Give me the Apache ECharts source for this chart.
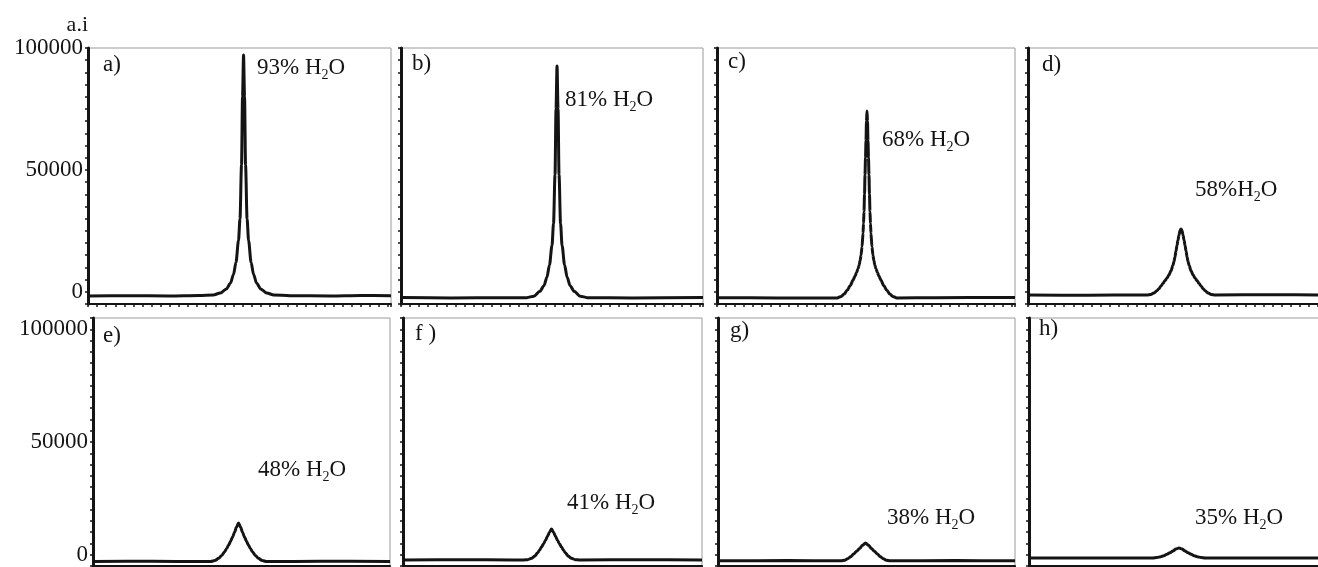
<!DOCTYPE html>
<html>
<head>
<meta charset="utf-8">
<script src="https://cdn.jsdelivr.net/npm/echarts@6/dist/echarts.min.js"></script>
<style>
  html, body { margin: 0; padding: 0; background: #fff; }
  #chart { width: 1318px; height: 567px; }
</style>
</head>
<body>
<div id="chart"></div>
<script>
// ---------------- data ----------------
const panelTags = ['a)', 'b)', 'c)', 'd)', 'e)', 'f )', 'g)', 'h)'];
const waterContent = ['93%', '81%', '68%', '58%', '48%', '41%', '38%', '35%'];
const waterSpace = [' ', ' ', ' ', '', ' ', ' ', ' ', ' '];
const yTickLabels = [0, 50000, 100000];
const yAxisTitle = 'a.i';

// [x (scan position, arbitrary units), intensity]
const curveA = [[0,-1700],[40,-1600],[80,-1700],[110,-1500],[124,-1300],[131,-500],[137,1200],[141,3500],[144,7000],[146.5,12000],[149,21000],[150.5,30000],[152,52000],[153,80000],[154,97100],[155,80000],[156,52000],[157.5,30000],[159,21000],[161.5,12000],[164,7000],[167,3500],[171,1200],[177,-500],[184,-1300],[200,-1600],[240,-1700],[270,-1500],[300,-1600]];
const curveB = [[0,-2300],[50,-2500],[100,-2400],[125,-2400],[132,-1800],[138,200],[142,2500],[145,6000],[147.5,11000],[150,19000],[151.5,28000],[153,48000],[154,75000],[155,92600],[156,75000],[157,48000],[158.5,28000],[160,19000],[162.5,11000],[165,6000],[168,2500],[172,200],[178,-1800],[185,-2400],[230,-2500],[300,-2300]];
const curveC = [[0,-2400],[60,-2500],[110,-2500],[121,-2500],[125,-1900],[128,-900],[131,600],[134,2500],[137,4800],[139,6500],[140.5,7900],[142,9500],[143,10900],[144,12600],[145,15000],[146,18500],[147,24000],[147.5,28000],[148,33000],[148.5,40000],[149,48000],[149.5,55000],[150,62000],[150.5,70000],[151,74200],[151.5,70000],[152,62000],[152.5,55000],[153,48000],[153.5,40000],[154,33000],[154.5,28000],[155,24000],[156,18500],[157,15000],[158,12600],[159,10900],[160,9500],[161.5,7900],[163,6500],[165,4800],[168,2500],[171,600],[174,-900],[177,-1900],[181,-2500],[220,-2400],[300,-2300]];
const curveD = [[0,-1300],[60,-1400],[110,-1300],[118,-1300],[122,-1100],[125,-500],[128,400],[130,1300],[132,2300],[134,3400],[136,4500],[138,5600],[140,6900],[142,8600],[144,10900],[145,12400],[146,14300],[147,16700],[148,19000],[149,21200],[150,23300],[151,25000],[152,25800],[153,25000],[154,23300],[155,21200],[156,19000],[157,16700],[158,14300],[159,12400],[160,10900],[162,8600],[164,6900],[166,5600],[168,4500],[170,3400],[172,2300],[174,1300],[176,400],[179,-500],[182,-1100],[186,-1300],[240,-1200],[300,-1300]];
const curveE = [[0,-3000],[60,-2900],[110,-3000],[119,-3000],[123,-2600],[127,-1600],[130,-300],[133,1300],[135,2700],[137,4300],[139,6000],[141,7900],[143,10000],[145,12300],[147,14100],[149,12300],[151,10000],[153,7900],[155,6000],[157,4300],[159,2700],[161,1300],[164,-300],[167,-1600],[171,-2600],[175,-3000],[230,-2900],[300,-3000]];
const curveF = [[0,-2300],[60,-2200],[110,-2300],[121,-2300],[125,-2200],[129,-1600],[132,-700],[135,800],[137,2000],[139,3400],[141,4900],[143,6400],[145,8200],[147,10000],[149,11400],[151,10000],[153,8200],[155,6400],[157,4900],[159,3400],[161,2000],[163,800],[166,-700],[169,-1600],[173,-2200],[177,-2300],[240,-2200],[300,-2300]];
const curveG = [[0,-2700],[70,-2600],[120,-2700],[124,-2700],[128,-2400],[131,-1800],[134,-900],[137,300],[140,1500],[143,2800],[146,4200],[149,5200],[152,4200],[155,2800],[158,1500],[161,300],[164,-900],[167,-1800],[170,-2400],[174,-2700],[240,-2600],[300,-2700]];
const curveH = [[0,-1500],[70,-1400],[120,-1400],[123,-1400],[127,-1250],[131,-900],[134,-400],[137,200],[140,900],[143,1700],[146,2500],[149,3000],[152,2500],[155,1700],[158,900],[161,200],[164,-400],[167,-900],[171,-1250],[175,-1400],[240,-1500],[300,-1400]];
const curves = [curveA, curveB, curveC, curveD, curveE, curveF, curveG, curveH];

// ---------------- layout / style ----------------
const FONT = '"Liberation Serif", "DejaVu Serif", "Times New Roman", serif';
const INK = '#141414';
const gridBoxes = [
  { left: 88,  top: 48,  width: 303, height: 256 },
  { left: 401, top: 48,  width: 302, height: 256 },
  { left: 717, top: 48,  width: 298, height: 256 },
  { left: 1028, top: 48, width: 302, height: 256 },
  { left: 93,  top: 318, width: 297, height: 248 },
  { left: 403, top: 318, width: 299, height: 248 },
  { left: 718, top: 318, width: 297, height: 248 },
  { left: 1029, top: 318, width: 302, height: 248 }
];
const rowMax = [100000, 105000];
const tagPos = [[103,65],[412,64],[728,62],[1042,65],[103,336],[415,334],[730,331],[1039,329]];
const notePos = [[257,68],[565,100],[882,140],[1195,190],[258,470],[567,503],[887,518],[1195,518]];

const grids = [], xAxes = [], yAxes = [], series = [], graphics = [];
gridBoxes.forEach((g, i) => {
  const row = i < 4 ? 0 : 1;
  grids.push(Object.assign({ show: true, borderColor: '#9a9a9a', borderWidth: 1, backgroundColor: 'transparent', containLabel: false, outerBoundsMode: 'none' }, g));
  xAxes.push({
    type: 'value', gridIndex: i, min: 0, max: 300, interval: 9,
    axisLine: { show: true, onZero: false, lineStyle: { color: INK, width: 2 } },
    axisTick: { show: true, length: 3, lineStyle: { color: INK, width: 1.5 } },
    axisLabel: { show: false }, splitLine: { show: false }
  });
  yAxes.push({
    type: 'value', gridIndex: i, min: -5000, max: rowMax[row], interval: 5000,
    name: i === 0 ? yAxisTitle : '',
    nameLocation: 'end', nameGap: 12,
    nameTextStyle: { fontFamily: FONT, fontSize: 22, color: INK, align: 'right', verticalAlign: 'bottom' },
    axisLine: { show: true, onZero: false, lineStyle: { color: INK, width: 3 } },
    axisTick: { show: true, length: 3, lineStyle: { color: INK, width: 1.5 } },
    axisLabel: {
      show: i % 4 === 0, margin: 5, fontFamily: FONT, fontSize: 23, color: INK,
      formatter: v => (yTickLabels.indexOf(v) >= 0 ? String(v) : '')
    },
    splitLine: { show: false }
  });
  series.push({
    type: 'line', xAxisIndex: i, yAxisIndex: i, data: curves[i],
    showSymbol: false, symbol: 'none', smooth: 0.3, smoothMonotone: 'x', animation: false,
    lineStyle: { color: INK, width: 3 }
  });
  graphics.push({
    type: 'text', x: tagPos[i][0], y: tagPos[i][1],
    style: { text: panelTags[i], font: '23px ' + FONT, fill: INK, textVerticalAlign: 'middle', verticalAlign: 'middle' }
  });
  graphics.push({
    type: 'text', x: notePos[i][0], y: notePos[i][1],
    style: {
      text: '{n|' + waterContent[i] + waterSpace[i] + 'H}{s|2}{n|O}',
      verticalAlign: 'middle', textVerticalAlign: 'middle',
      rich: {
        n: { fontFamily: FONT, fontSize: 23, lineHeight: 28, fill: INK, color: INK, verticalAlign: 'middle' },
        s: { fontFamily: FONT, fontSize: 14, lineHeight: 16, fill: INK, color: INK, verticalAlign: 'bottom' }
      }
    }
  });
});

const chart = echarts.init(document.getElementById('chart'), null, { renderer: 'canvas' });
chart.setOption({
  animation: false,
  backgroundColor: '#ffffff',
  grid: grids, xAxis: xAxes, yAxis: yAxes, series: series,
  graphic: graphics
});
</script>
</body>
</html>
